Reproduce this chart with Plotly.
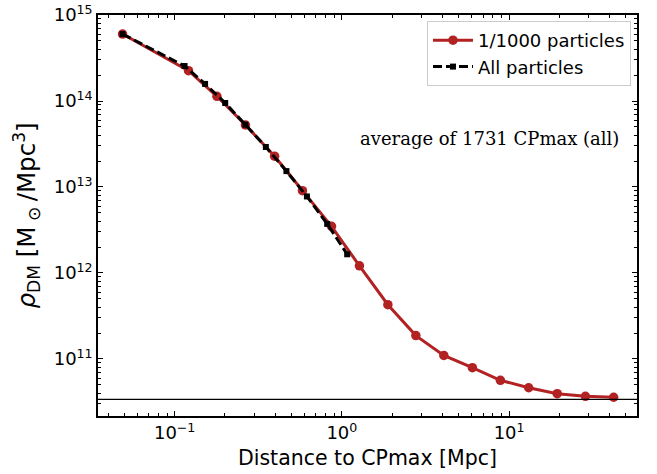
import numpy as np
import plotly.graph_objects as go

# 1/1000 particles profile
r_sub = [0.0488, 0.121, 0.179, 0.265, 0.396, 0.581, 0.867, 1.274, 1.884, 2.77,
         4.07, 6.03, 8.87, 13.1, 19.4, 28.6, 42.2]
rho_sub = [6.01e14, 2.25e14, 1.135e14, 5.26e13, 2.28e13, 9.05e12, 3.49e12, 1.21e12,
           4.28e11, 1.87e11, 1.10e11, 7.92e10, 5.65e10, 4.63e10, 3.95e10, 3.68e10, 3.59e10]

# All particles profile
r_all = [0.0488, 0.1146, 0.152, 0.2006, 0.265, 0.351, 0.466, 0.618, 0.817, 1.076]
rho_all = [6.0e14, 2.55e14, 1.58e14, 9.48e13, 5.3e13, 2.92e13, 1.53e13, 7.76e12,
           3.72e12, 1.65e12]

# mean background density
rho_mean = 3.4e10

x_tickvals = [0.1, 1, 10]
x_ticktext = ["10<sup>−1</sup>", "10<sup>0</sup>", "10<sup>1</sup>"]
y_tickvals = [1e11, 1e12, 1e13, 1e14, 1e15]
y_ticktext = ["10<sup>11</sup>", "10<sup>12</sup>", "10<sup>13</sup>", "10<sup>14</sup>", "10<sup>15</sup>"]

annotation_text = "average of 1731 CPmax (all)"

RED = "#b22222"
FONT = "DejaVu Sans"

fig = go.Figure()
fig.add_trace(go.Scatter(
    x=r_sub, y=rho_sub, mode="lines+markers", name="1/1000 particles",
    line=dict(color=RED, width=3),
    marker=dict(color=RED, size=9.5, symbol="circle"),
))
fig.add_trace(go.Scatter(
    x=r_all, y=rho_all, mode="lines+markers", name="All particles",
    line=dict(color="black", width=3, dash="9px,4px"),
    marker=dict(color="black", size=6, symbol="square"),
))

fig.add_shape(type="line", xref="paper", yref="y", x0=0, x1=1,
              y0=rho_mean, y1=rho_mean, line=dict(color="black", width=1.3))

fig.add_annotation(text=annotation_text, xref="paper", yref="paper",
                   x=(621 - 98) / (637 - 98), y=1 - (138 - 15) / (416 - 15),
                   xanchor="right", yanchor="middle", showarrow=False,
                   font=dict(family="DejaVu Serif, serif", size=18, color="black"))

minor_x = [k * 10.0 ** n for n in range(-2, 2) for k in range(2, 10)]
minor_y = [k * 10.0 ** n for n in range(10, 15) for k in range(2, 10)]

axis_common = dict(
    type="log", showline=True, linecolor="black", linewidth=1.5, mirror="ticks",
    ticks="inside", ticklen=5, tickwidth=1, tickcolor="black",
    showgrid=False, zeroline=False, automargin=False,
    tickfont=dict(family=FONT, size=18, color="black"),
)

fig.update_xaxes(
    **axis_common,
    range=[np.log10(0.0348), np.log10(58.2)],
    tickmode="array", tickvals=x_tickvals, ticktext=x_ticktext,
    minor=dict(tickmode="array", tickvals=minor_x, ticks="inside", ticklen=3,
               tickcolor="black", showgrid=False),
    title=dict(text="Distance to CPmax [Mpc]", font=dict(family=FONT, size=20.5, color="black"),
               standoff=8),
)
fig.update_yaxes(
    **axis_common,
    range=[10.337, 15.0],
    tickmode="array", tickvals=y_tickvals, ticktext=y_ticktext,
    minor=dict(tickmode="array", tickvals=minor_y, ticks="inside", ticklen=3,
               tickcolor="black", showgrid=False),
    title=dict(text="<i>ρ</i><sub>DM</sub> [M<sub> ⊙ </sub>/Mpc<sup>3</sup>]",
               font=dict(family=FONT, size=24.5, color="black"), standoff=11),
)

fig.update_layout(
    width=657, height=474,
    margin=dict(l=98, r=20, t=15, b=58),
    paper_bgcolor="white", plot_bgcolor="white",
    font=dict(family=FONT, color="black"),
    legend=dict(x=(631 - 98) / (637 - 98), y=1 - (21 - 15) / (416 - 15),
                xanchor="right", yanchor="top",
                bgcolor="rgba(255,255,255,0.8)", bordercolor="#cccccc", borderwidth=1,
                font=dict(family=FONT, size=18, color="black"),
                itemwidth=40, tracegroupgap=0),
)

fig.write_html("out.html")
